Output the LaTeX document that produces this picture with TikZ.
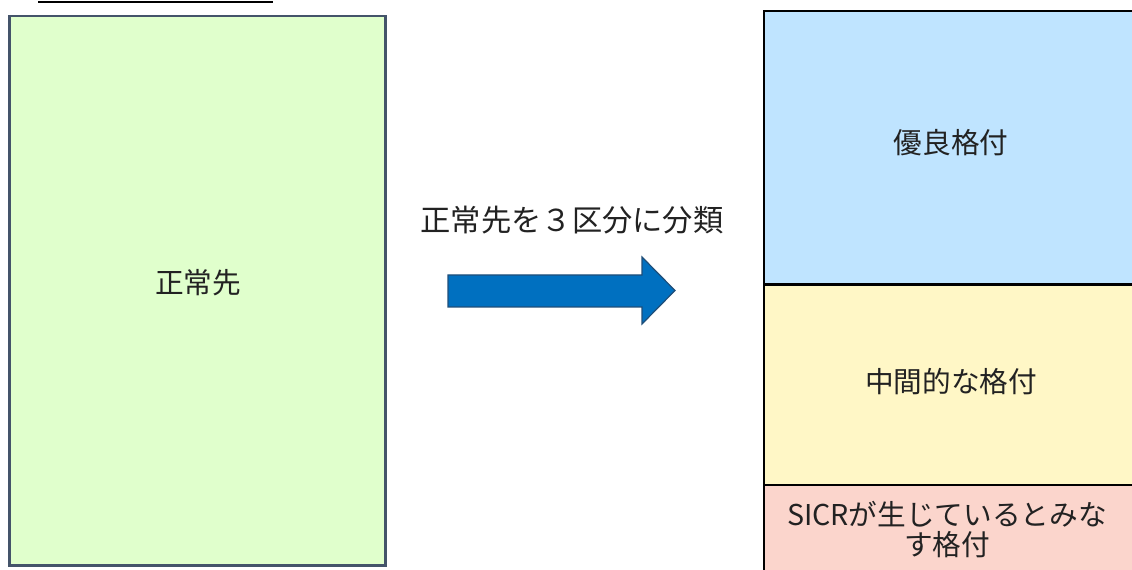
\documentclass[tikz,border=0pt]{standalone}
\usepackage{fontspec}
\setmainfont{Noto Sans CJK JP}
\usetikzlibrary{positioning}
\definecolor{leftfill}{HTML}{E0FFCC}
\definecolor{leftdraw}{HTML}{44546A}
\definecolor{bluefill}{HTML}{BFE4FF}
\definecolor{yellowfill}{HTML}{FFF7C6}
\definecolor{pinkfill}{HTML}{FBD5CC}
\definecolor{arrowfill}{HTML}{0070C0}
\definecolor{arrowdraw}{HTML}{1F4E79}
\definecolor{txt}{HTML}{222222}
\tikzset{
  lbl/.style={font=\fontsize{21.5}{26}\selectfont, text=txt, align=center},
  catbox/.style={draw=black, line width=1.6pt},
}
\begin{document}
\begin{tikzpicture}[x=0.75pt,y=-0.75pt]
\useasboundingbox (0,0) rectangle (1132,570);
\clip (0,0) rectangle (1132,570);
% top line
\coordinate (tl1) at (38,2);
\coordinate (tl2) at (273,2);
\draw[line width=1.6pt, black] (tl1) -- (tl2);
% left box
\draw[fill=leftfill, draw=leftdraw, line width=1.8pt] (9.5,16) rectangle (385.5,565.5);
\node[lbl] (left) at (198,283) {正常先};
% right boxes
\draw[catbox, fill=bluefill] (764,11) rectangle (1140,284.5);
\draw[catbox, fill=yellowfill] (764,284.5) rectangle (1140,485);
\draw[catbox, fill=pinkfill] (764,485) rectangle (1140,580);
\node[lbl] (top) at (951,143) {優良格付};
\node[lbl] (mid) at (951,382) {中間的な格付};
\node[lbl, font=\fontsize{21.5}{22.5}\selectfont] (bot) at (947,530) {SICRが生じているとみな\\す格付};
% arrow
\node[lbl, font=\fontsize{22.7}{26}\selectfont] (cap) at (572,220) {正常先を３区分に分類};
\coordinate (a1) at (448,275);
\coordinate (a2) at (642,275);
\coordinate (a3) at (642,257);
\coordinate (a4) at (675,290.5);
\coordinate (a5) at (642,324);
\coordinate (a6) at (642,307);
\coordinate (a7) at (448,307);
\draw[fill=arrowfill, draw=arrowdraw, line width=0.9pt, line join=miter] (a1) -- (a2) -- (a3) -- (a4) -- (a5) -- (a6) -- (a7) -- cycle;
\end{tikzpicture}
\end{document}
